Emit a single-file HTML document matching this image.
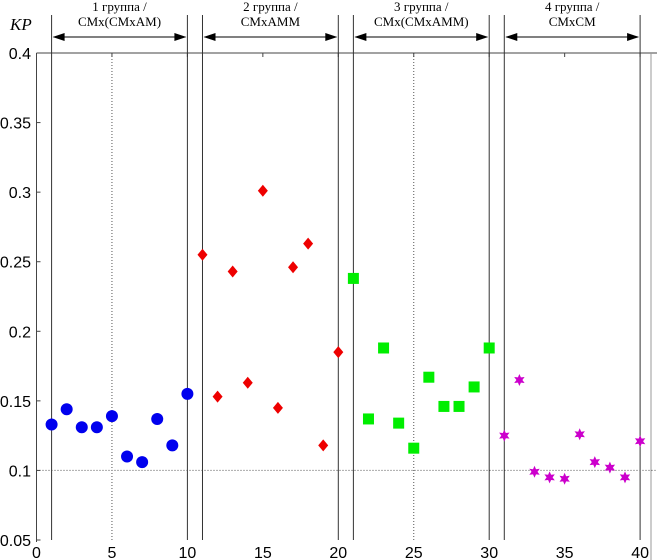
<!DOCTYPE html>
<html><head><meta charset="utf-8"><style>
html,body{margin:0;padding:0;background:#fff;}
svg{display:block;font-family:"Liberation Sans",sans-serif;}
</style></head><body>
<svg id="chart" width="657" height="560" viewBox="0 0 657 560">
<g id="grid"></g><g id="axes"></g><g id="groups"></g><g id="marks"></g>
</svg>
<script>
const groupLabels1=["1 группа /","2 группа /","3 группа /","4 группа /"];
const groupLabels2=["CMx(CMxAM)","CMxAMM","CMx(CMxAMM)","CMxCM"];
const groupStart=[1,11,21,31];
const groupEnd=[10,20,30,40];
const xTicks=[0,5,10,15,20,25,30,35,40];
const yTicks=[0.05,0.1,0.15,0.2,0.25,0.3,0.35,0.4];
const yTickLabels=["0.05","0.1","0.15","0.2","0.25","0.3","0.35","0.4"];
const g1x=[1,2,3,4,5,6,7,8,9,10];
const g1y=[0.133,0.144,0.131,0.131,0.139,0.110,0.106,0.137,0.118,0.155];
const g2x=[11,12,13,14,15,16,17,18,19,20];
const g2y=[0.255,0.153,0.243,0.163,0.301,0.145,0.246,0.263,0.118,0.185];
const g3x=[21,22,23,24,25,26,27,28,29,30];
const g3y=[0.238,0.137,0.188,0.134,0.116,0.167,0.146,0.146,0.160,0.188];
const g4x=[31,32,33,34,35,36,37,38,39,40];
const g4y=[0.125,0.165,0.099,0.095,0.094,0.126,0.106,0.102,0.095,0.121];

const NS="http://www.w3.org/2000/svg";
const X=v=>36.5+v*15.09;
const Y=v=>540-(v-0.05)*1391.4;
function mk(tag,attrs,parent){const e=document.createElementNS(NS,tag);for(const k in attrs)e.setAttribute(k,attrs[k]);document.getElementById(parent).appendChild(e);return e;}

// grid
[5,25].forEach(v=>{const l=mk('line',{x1:X(v),x2:X(v),y1:Y(0.4),y2:Y(0.05),stroke:'#555','stroke-dasharray':'1,2','stroke-width':1},'grid');

});
{const l=mk('line',{x1:X(0),x2:657,y1:Y(0.1),y2:Y(0.1),stroke:'#555','stroke-dasharray':'1,2','stroke-width':1},'grid');

}

// axes
{const l=mk('line',{x1:X(0),x2:X(0),y1:Y(0.4),y2:Y(0.05)+2,stroke:'#444','stroke-width':1},'axes');

}
{const l=mk('line',{x1:X(0),x2:657,y1:Y(0.4),y2:Y(0.4),stroke:'#444','stroke-width':1},'axes');

}
{const l=mk('line',{x1:651,x2:651,y1:Y(0.4),y2:560,stroke:'#999','stroke-width':1},'axes');

}
yTicks.forEach((v,i)=>{
 const t=mk('text',{x:31,y:Y(v)+6,'text-anchor':'end','font-size':16,fill:'#000'},'axes');
 t.textContent=yTickLabels[i];
 
 
 const tk=mk('line',{x1:X(0),x2:X(0)+4,y1:Y(v),y2:Y(v),stroke:'#444'},'axes');
 
 
});
xTicks.forEach(v=>{
 const t=mk('text',{x:X(v),y:558,'text-anchor':'middle','font-size':16,fill:'#000'},'axes');
 t.textContent=String(v);
 
 
 const tk=mk('line',{x1:X(v),x2:X(v),y1:Y(0.4),y2:Y(0.4)+4,stroke:'#444'},'axes');
 
 
});
{const t=mk('text',{x:10,y:30,'font-size':17,'font-style':'italic','font-family':'Liberation Serif, serif',fill:'#000'},'axes');
t.textContent='KP';

}

// groups
groupStart.forEach((s,i)=>{
 const e=groupEnd[i];
 [s,e].forEach(v=>{const l=mk('line',{x1:X(v),x2:X(v),y1:15,y2:Y(0.05),stroke:'#333','stroke-width':1},'groups');
 
 });
 const a=mk('line',{x1:X(s)+2,x2:X(e)-2,y1:37,y2:37,stroke:'#000','stroke-width':1},'groups');
 
 
 const h1=mk('polygon',{points:`${X(s)+1},37 ${X(s)+13},33 ${X(s)+13},41`,fill:'#000'},'groups');
 
 
 const h2=mk('polygon',{points:`${X(e)-1},37 ${X(e)-13},33 ${X(e)-13},41`,fill:'#000'},'groups');
 
 
 const cx=(X(s)+X(e))/2;
 const t1=mk('text',{x:cx,y:11,'text-anchor':'middle','font-size':13,'font-family':'Liberation Serif, serif',fill:'#000'},'groups');
 t1.textContent=groupLabels1[i];
 
 
 const t2=mk('text',{x:cx,y:26,'text-anchor':'middle','font-size':13,'font-family':'Liberation Serif, serif',fill:'#000'},'groups');
 t2.textContent=groupLabels2[i];
 
 
});

// marks
g1x.forEach((x,i)=>{const c=mk('circle',{cx:X(x),cy:Y(g1y[i]),r:6,fill:'#0000ee'},'marks');

});
g2x.forEach((x,i)=>{const cx=X(x),cy=Y(g2y[i]);const p=mk('polygon',{points:`${cx},${cy-6} ${cx+5},${cy} ${cx},${cy+6} ${cx-5},${cy}`,fill:'#ee0000'},'marks');

});
g3x.forEach((x,i)=>{const r=mk('rect',{x:X(x)-5.5,y:Y(g3y[i])-5.5,width:11,height:11,fill:'#00ee00'},'marks');

});
g4x.forEach((x,i)=>{const cx=X(x),cy=Y(g4y[i]);let pts=[];for(let k=0;k<12;k++){const r=k%2?3:6;const a=Math.PI*k/6-Math.PI/2;pts.push((cx+r*Math.cos(a)).toFixed(1)+','+(cy+r*Math.sin(a)).toFixed(1));}
const p=mk('polygon',{points:pts.join(' '),fill:'#cc00cc'},'marks');

});
</script>
</body></html>
